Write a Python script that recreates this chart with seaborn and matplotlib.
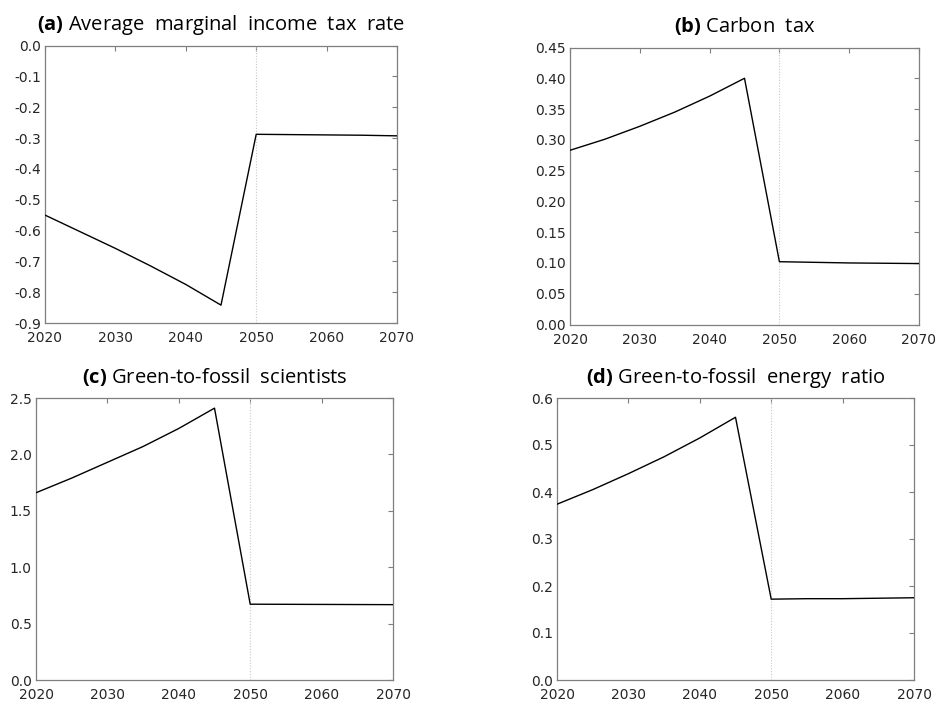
import numpy as np
import pandas as pd
import matplotlib
matplotlib.use("Agg")
import matplotlib.pyplot as plt
import seaborn as sns

years = [2020, 2025, 2030, 2035, 2040, 2045, 2050, 2055, 2060, 2065, 2070]
income_tax = [-0.550, -0.604, -0.658, -0.715, -0.775, -0.842, -0.288, -0.289, -0.290, -0.291, -0.293]
carbon_tax = [0.283, 0.301, 0.322, 0.345, 0.371, 0.400, 0.102, 0.101, 0.100, 0.0995, 0.099]
scientists = [1.66, 1.79, 1.93, 2.07, 2.23, 2.41, 0.672, 0.671, 0.670, 0.669, 0.668]
energy_ratio = [0.374, 0.405, 0.439, 0.475, 0.515, 0.559, 0.172, 0.173, 0.173, 0.174, 0.175]

titles_bold = ["(a)", "(b)", "(c)", "(d)"]
titles_text = ["Average  marginal  income  tax  rate", "Carbon  tax",
               "Green-to-fossil  scientists", "Green-to-fossil  energy  ratio"]
ylims = [(-0.9, 0.0), (0.0, 0.45), (0.0, 2.5), (0.0, 0.6)]
yticks = [np.arange(-0.9, 0.001, 0.1), np.arange(0, 0.4501, 0.05),
          np.arange(0, 2.501, 0.5), np.arange(0, 0.601, 0.1)]
yfmt = ["{:.1f}", "{:.2f}", "{:.1f}", "{:.1f}"]
xticks = [2020, 2030, 2040, 2050, 2060, 2070]
series = [income_tax, carbon_tax, scientists, energy_ratio]

sns.set_style("white")
plt.rcParams["font.family"] = ["DejaVu Sans"]
plt.rcParams["axes.unicode_minus"] = False
plt.rcParams["mathtext.fontset"] = "custom"
plt.rcParams["mathtext.bf"] = "Open Sans:bold"
plt.rcParams["mathtext.rm"] = "Open Sans"

fig = plt.figure(figsize=(9.4, 7.04), dpi=100)
rects = [
    [45 / 940, (704 - 323) / 704, 352 / 940, 277.5 / 704],
    [570 / 940, (704 - 324.5) / 704, 349 / 940, 277 / 704],
    [36 / 940, (704 - 680) / 704, 357 / 940, 282 / 704],
    [557 / 940, (704 - 680) / 704, 357 / 940, 282 / 704],
]

spine_col = "#7f7f7f"
for i in range(4):
    ax = fig.add_axes(rects[i])
    df = pd.DataFrame({"year": years, "value": series[i]})
    ax.axvline(2050, color="#c8c8c8", linestyle=(0, (1, 1.5)), linewidth=0.8, zorder=1)
    sns.lineplot(data=df, x="year", y="value", ax=ax, color="black", linewidth=1.0, zorder=3)
    ax.set_xlim(2020, 2070)
    ax.set_ylim(*ylims[i])
    ax.set_xticks(xticks)
    ax.set_xticklabels([str(x) for x in xticks])
    ax.set_yticks(yticks[i])
    ax.set_yticklabels([yfmt[i].format(round(float(v), 2) + 0.0) for v in yticks[i]])
    ax.set_xlabel("")
    ax.set_ylabel("")
    for s in ax.spines.values():
        s.set_visible(True)
        s.set_color(spine_col)
        s.set_linewidth(0.9)
    ax.tick_params(axis="both", direction="in", length=3.5, width=0.8, color=spine_col,
                   top=True, right=True, labelsize=10, labelcolor="#262626")
    ax.tick_params(axis="x", pad=6)
    ax.tick_params(axis="y", pad=3)
    ax.set_title(r"$\mathbf{" + titles_bold[i] + r"}$ " + titles_text[i],
                 fontfamily="Open Sans", fontsize=14.5, color="black", pad=11)

fig.savefig("out.png", dpi=100)
